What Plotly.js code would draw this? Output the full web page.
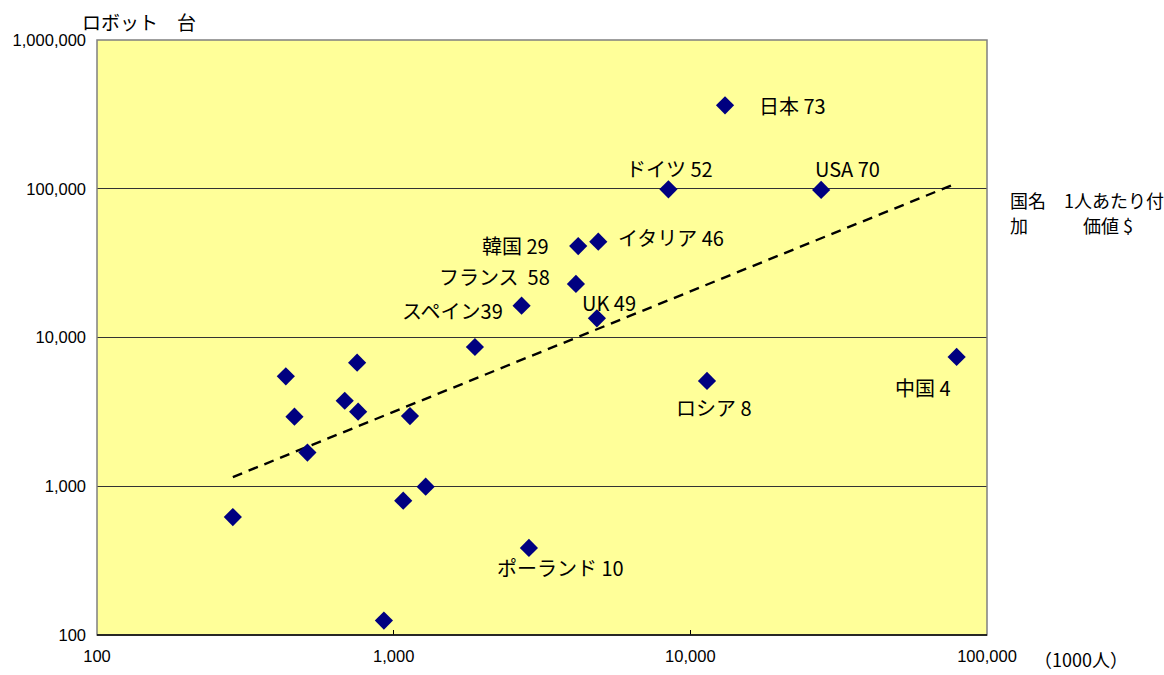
<!DOCTYPE html>
<html>
<head>
<meta charset="utf-8">
<script src="https://cdn.plot.ly/plotly-3.0.1.min.js"></script>
<style>html,body{margin:0;padding:0;background:#fff;}#chart{width:1164px;height:675px;}</style>
</head>
<body>
<div id="chart"></div>
<script>
// x: 人口 (1000人), y: ロボット台数
const popX   = [287, 433, 463, 512, 684, 753, 759, 927, 1077, 1135, 1282, 1879,
                2699, 2857, 4115, 4188, 4894, 4843, 8435, 11380, 13090, 27600, 79000];
const robotY = [621, 5480, 2936, 1683, 3758, 6777, 3170, 125, 800, 2965, 993, 8632,
                16370, 385, 22900, 41200, 44050, 13460, 99100, 5108, 364000, 98200, 7400];
const pointLabels = ["", "", "", "", "", "", "", "", "", "", "", "",
                "スペイン39", "ポーランド 10", "フランス  58", "韓国 29", "イタリア 46", "UK 49",
                "ドイツ 52", "ロシア 8", "日本 73", "USA 70", "中国 4"];
const trendX = [287, 79000];
const trendY = [1153, 108800];
const xTickVals = [100, 1000, 10000, 100000];
const xTickText = ["100", "1,000", "10,000", "100,000"];
const yTickVals = [100, 1000, 10000, 100000, 1000000];
const yTickText = ["100", "1,000", "10,000", "100,000", "1,000,000"];

// label placement (pixel offsets) per labelled point
const labelStyle = {
  "スペイン39":   {xanchor: "right",  xshift: -17, yshift: -5},
  "ポーランド 10": {xanchor: "center", xshift: 32,  yshift: -20},
  "フランス  58": {xanchor: "right",  xshift: -24, yshift: 7},
  "韓国 29":     {xanchor: "right",  xshift: -27, yshift: 1},
  "イタリア 46":  {xanchor: "left",   xshift: 18,  yshift: 4},
  "UK 49":       {xanchor: "center", xshift: 12,  yshift: 16},
  "ドイツ 52":    {xanchor: "center", xshift: 1,   yshift: 21},
  "ロシア 8":     {xanchor: "center", xshift: 7,   yshift: -27},
  "日本 73":      {xanchor: "left",   xshift: 32,  yshift: 0},
  "USA 70":      {xanchor: "center", xshift: 26,  yshift: 21},
  "中国 4":       {xanchor: "center", xshift: -34, yshift: -31}
};

const jp = "Noto Sans CJK JP";
const annotations = [];
pointLabels.forEach((t, i) => {
  if (!t) return;
  const s = labelStyle[t];
  annotations.push({
    x: Math.log10(popX[i]), y: Math.log10(robotY[i]), xref: "x", yref: "y",
    text: t, showarrow: false, xanchor: s.xanchor, yanchor: "middle",
    xshift: s.xshift, yshift: s.yshift,
    font: {family: jp, size: 20, color: "#000"}
  });
});
// axis titles / notes
annotations.push(
  {xref: "paper", yref: "paper", x: -0.0191, y: 1.0303, xanchor: "left", yanchor: "middle",
   text: "ロボット　台", showarrow: false, font: {family: jp, size: 19, color: "#000"}},
  {xref: "paper", yref: "paper", x: 1.0236, y: 0.7311, xanchor: "left", yanchor: "middle",
   text: "国名　1人あたり付", showarrow: false, font: {family: jp, size: 18, color: "#000"}},
  {xref: "paper", yref: "paper", x: 1.0236, y: 0.689, xanchor: "left", yanchor: "middle",
   text: "加", showarrow: false, font: {family: jp, size: 18, color: "#000"}},
  {xref: "paper", yref: "paper", x: 1.1056, y: 0.689, xanchor: "left", yanchor: "middle",
   text: "価値 $", showarrow: false, font: {family: jp, size: 18, color: "#000"}},
  {xref: "paper", yref: "paper", x: 1.0506, y: -0.040, xanchor: "left", yanchor: "middle",
   text: "（1000人）", showarrow: false, font: {family: jp, size: 18, color: "#000"}}
);

const traces = [
  {x: trendX, y: trendY, type: "scatter", mode: "lines",
   line: {color: "#000", width: 2.4, dash: "10px,7px"}, hoverinfo: "skip"},
  {x: popX, y: robotY, type: "scatter", mode: "markers",
   marker: {symbol: "diamond", color: "#000080", size: 14}}
];

const tickFont = {family: "Liberation Sans, Arial, sans-serif", size: 16.5, color: "#000"};
const layout = {
  width: 1164, height: 675,
  margin: {l: 97, r: 177, t: 40, b: 40},
  paper_bgcolor: "#ffffff", plot_bgcolor: "#FFFF99",
  showlegend: false,
  xaxis: {type: "log", range: [2, 5], tickvals: xTickVals, ticktext: xTickText,
          showgrid: false, zeroline: false, ticks: "inside", ticklen: 5, tickcolor: "#000",
          showline: false, tickfont: tickFont, ticklabelstandoff: 9},
  yaxis: {type: "log", range: [2, 6], tickvals: yTickVals, ticktext: yTickText,
          showgrid: true, gridcolor: "#333", gridwidth: 1, zeroline: false, ticks: "",
          showline: false, tickfont: tickFont, ticklabelstandoff: 10},
  shapes: [{type: "rect", xref: "paper", yref: "paper", x0: 0, x1: 1, y0: 0, y1: 1,
            line: {color: "#808080", width: 1.5}, layer: "above"},
           {type: "line", xref: "paper", yref: "paper", x0: 0, x1: 1, y0: 0, y1: 0,
            line: {color: "#000", width: 1.5}, layer: "above"}],
  annotations: annotations
};

Plotly.newPlot("chart", traces, layout, {displayModeBar: false, staticPlot: true});
</script>
</body>
</html>
